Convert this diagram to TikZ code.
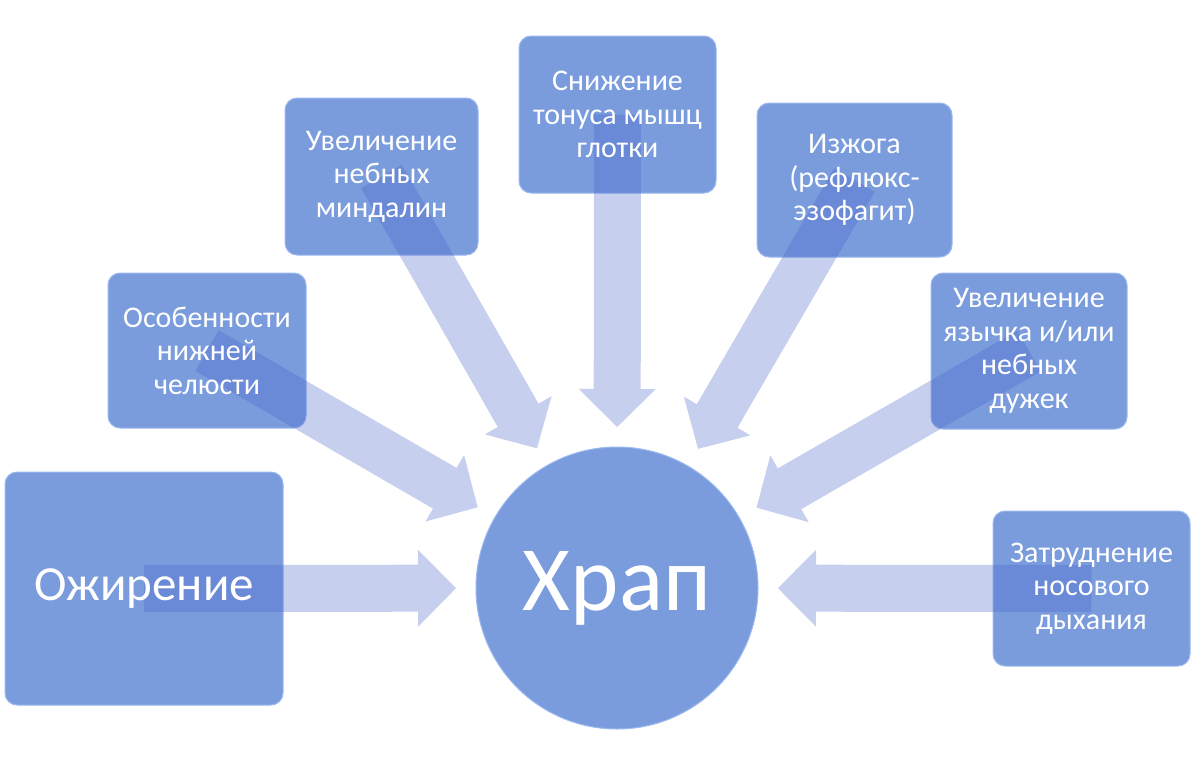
\documentclass[tikz,border=0pt]{standalone}
\usepackage{fontspec}
\setmainfont{Carlito}
\usetikzlibrary{calc}
\definecolor{boxblue}{RGB}{122,156,221}
\definecolor{boxedge}{RGB}{155,185,240}
\definecolor{arrowcol}{RGB}{71,95,198}
\tikzset{
  cause/.style={draw=boxedge, line width=1pt, fill=boxblue, rounded corners=12pt, inner sep=0pt},
  snore/.style={draw=boxedge, line width=1pt, fill=boxblue, circle, minimum size=282pt, inner sep=0pt},
  lbl/.style={text=white, align=center, inner sep=0pt, font=\fontsize{30}{33.5}\selectfont},
  arrowfill/.style={fill=arrowcol, fill opacity=0.3}
}
\newcommand\blockarrow[2]{%
  \fill[arrowfill] let \p1=(#1.center), \p2=(#2.center),
    \n1={atan2(\y2-\y1,\x2-\x1)}, \n2={veclen(\x2-\x1,\y2-\y1)-161pt} in
    ($(\p1)+(\n1+90:23.5pt)$)
    -- ($(\p1)+(\n1:{\n2-38pt})+(\n1+90:23.5pt)$)
    -- ($(\p1)+(\n1:{\n2-38pt})+(\n1+90:38.5pt)$)
    -- ($(\p1)+(\n1:{\n2})$)
    -- ($(\p1)+(\n1:{\n2-38pt})+(\n1-90:38.5pt)$)
    -- ($(\p1)+(\n1:{\n2-38pt})+(\n1-90:23.5pt)$)
    -- ($(\p1)+(\n1-90:23.5pt)$) -- cycle;}
\begin{document}
\begin{tikzpicture}[x=1pt,y=-1pt]
\useasboundingbox (0,0) rectangle (1200,766);
% shapes
\node[snore] (c) at (617,588) {};
\node[cause, minimum width=278pt, minimum height=233pt] (ob) at (144,588.5) {};
\node[cause, minimum width=198pt, minimum height=155pt] (os) at (207,350.5) {};
\node[cause, minimum width=193pt, minimum height=157pt] (mi) at (381.5,176.5) {};
\node[cause, minimum width=197pt, minimum height=157pt] (sn) at (617.5,114.5) {};
\node[cause, minimum width=195pt, minimum height=154pt] (iz) at (854.5,180) {};
\node[cause, minimum width=196pt, minimum height=156pt] (ya) at (1029,351) {};
\node[cause, minimum width=197pt, minimum height=155pt] (za) at (1091.5,588.5) {};
% block arrows
\foreach \b in {ob,os,mi,sn,iz,ya,za} {\blockarrow{\b}{c}}
% texts
\node[lbl, font=\fontsize{92}{100}\selectfont] (tc) at (c.center) {Храп};
\node[lbl, font=\fontsize{49}{56}\selectfont] (tob) at (ob.center) {Ожирение};
\node[lbl] (tos) at (os.center) {Особенности\\нижней\\челюсти};
\node[lbl] (tmi) at (mi.center) {Увеличение\\небных\\миндалин};
\node[lbl] (tsn) at (sn.center) {Снижение\\тонуса мышц\\глотки};
\node[lbl] (tiz) at (iz.center) {Изжога\\(рефлюкс-\\эзофагит)};
\node[lbl] (tya) at (ya.center) {Увеличение\\язычка и/или\\небных\\дужек};
\node[lbl] (tza) at (za.center) {Затруднение\\носового\\дыхания};
\end{tikzpicture}
\end{document}
